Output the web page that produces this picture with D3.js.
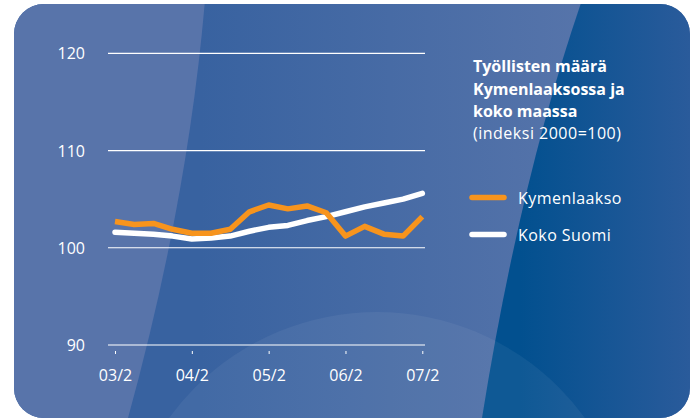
<!DOCTYPE html>
<html>
<head>
<meta charset="utf-8">
<script src="https://cdn.jsdelivr.net/npm/d3@7"></script>
<style>
  body { margin: 0; background: #fff; }
  svg { display: block; font-family: "Open Sans", sans-serif; }
</style>
</head>
<body>
<svg width="691" height="418"></svg>
<script>
// quarterly, 2003 Q2 .. 2007 Q2
var quarters = ['03/2', '03/3', '03/4', '04/1', '04/2', '04/3', '04/4', '05/1', '05/2',
  '05/3', '05/4', '06/1', '06/2', '06/3', '06/4', '07/1', '07/2'];
var kymenlaakso = [102.7, 102.4, 102.5, 101.9, 101.5, 101.5, 101.9, 103.7, 104.4,
  104.0, 104.3, 103.6, 101.2, 102.2, 101.4, 101.2, 103.2];
var kokoSuomi = [101.6, 101.5, 101.4, 101.2, 100.9, 101.0, 101.2, 101.7, 102.1,
  102.3, 102.8, 103.2, 103.7, 104.2, 104.6, 105.0, 105.6];
var yTicks = [90, 100, 110, 120];
var xTicks = ['03/2', '04/2', '05/2', '06/2', '07/2'];
var titleLines = ['Työllisten määrä', 'Kymenlaaksossa ja', 'koko maassa'];
var subtitle = '(indeksi 2000=100)';
var seriesNames = ['Kymenlaakso', 'Koko Suomi'];
var seriesColors = ['#f7941d', '#ffffff'];

var svg = d3.select('svg');
var defs = svg.append('defs');

// background panel
defs.append('clipPath').attr('id', 'panel')
  .append('rect').attr('x', 14).attr('y', 4).attr('width', 676).attr('height', 414).attr('rx', 30);

var midGrad = defs.append('linearGradient').attr('id', 'midGrad')
  .attr('gradientUnits', 'userSpaceOnUse').attr('x1', 200).attr('x2', 580).attr('y1', 0).attr('y2', 0);
midGrad.append('stop').attr('offset', 0).attr('stop-color', '#3862a0');
midGrad.append('stop').attr('offset', 1).attr('stop-color', '#5674aa');

var darkGrad = defs.append('linearGradient').attr('id', 'darkGrad')
  .attr('gradientUnits', 'userSpaceOnUse').attr('x1', 520).attr('x2', 690).attr('y1', 0).attr('y2', 0);
darkGrad.append('stop').attr('offset', 0).attr('stop-color', '#02508f');
darkGrad.append('stop').attr('offset', 1).attr('stop-color', '#2a5b9b');

var bg = svg.append('g').attr('clip-path', 'url(#panel)');
bg.append('rect').attr('x', 0).attr('y', 0).attr('width', 691).attr('height', 418).attr('fill', 'url(#midGrad)');
bg.append('path')
  .attr('d', 'M0,0 L205,0 Q188,200 128,418 L0,418 Z')
  .attr('fill', '#5874aa');
bg.append('path')
  .attr('d', 'M582,0 Q520,180 482,418 L691,418 L691,0 Z')
  .attr('fill', 'url(#darkGrad)');
bg.append('circle').attr('cx', 377).attr('cy', 569).attr('r', 257)
  .attr('fill', '#fff').attr('opacity', 0.055);

// scales
var x = d3.scalePoint().domain(quarters).range([115, 422.3]);
var y = d3.scaleLinear().domain([90, 120]).range([345, 53.3]);

// grid
svg.append('g').selectAll('line')
  .data(yTicks)
  .enter()
  .append('line')
  .attr('x1', 108).attr('x2', 425)
  .attr('y1', function(d) { return y(d); })
  .attr('y2', function(d) { return y(d); })
  .style('stroke', '#fff')
  .style('stroke-width', 1.2);

svg.append('g').selectAll('text')
  .data(yTicks)
  .enter()
  .append('text')
  .attr('x', 85)
  .attr('y', function(d) { return y(d) + 6; })
  .attr('text-anchor', 'end')
  .style('font-size', '16px')
  .style('fill', '#fff')
  .text(function(d) { return d; });

// x axis
var xAxis = svg.append('g')
  .attr('transform', 'translate(0,351)')
  .call(d3.axisBottom(x).tickValues(xTicks).tickSize(3).tickPadding(16));
xAxis.select('.domain').remove();
xAxis.selectAll('line').style('stroke', '#fff').style('stroke-width', 1);
xAxis.selectAll('text')
  .style('font-family', '"Open Sans", sans-serif')
  .style('font-size', '16px')
  .style('fill', '#fff');

// lines
var line = d3.line()
  .x(function(d, i) { return x(quarters[i]); })
  .y(function(d) { return y(d); });

svg.append('path')
  .datum(kokoSuomi)
  .attr('d', line)
  .style('fill', 'none')
  .style('stroke', seriesColors[1])
  .style('stroke-width', 5.5)
  .style('stroke-linejoin', 'round')
  .style('stroke-linecap', 'round');

svg.append('path')
  .datum(kymenlaakso)
  .attr('d', line)
  .style('fill', 'none')
  .style('stroke', seriesColors[0])
  .style('stroke-width', 5.5)
  .style('stroke-linejoin', 'round');

// title
var title = svg.append('text').attr('x', 473).style('fill', '#fff').style('font-size', '16px');
titleLines.forEach(function(t, i) {
  title.append('tspan').attr('x', 473).attr('y', 72 + i * 22.5)
    .style('font-weight', 'bold').text(t);
});
title.append('tspan').attr('x', 473).attr('y', 139)
  .style('letter-spacing', '0.5px').text(subtitle);

// legend
var legend = svg.append('g').selectAll('g')
  .data(seriesNames)
  .enter()
  .append('g')
  .attr('transform', function(d, i) { return 'translate(0,' + (197.5 + i * 37) + ')'; });
legend.append('line')
  .attr('x1', 472).attr('x2', 504).attr('y1', 0).attr('y2', 0)
  .style('stroke', function(d, i) { return seriesColors[i]; })
  .style('stroke-width', 5.5)
  .style('stroke-linecap', 'round');
legend.append('text')
  .attr('x', 518).attr('y', 6)
  .style('font-size', '16px')
  .style('letter-spacing', '0.45px')
  .style('fill', '#fff')
  .text(function(d) { return d; });
</script>
</body>
</html>
